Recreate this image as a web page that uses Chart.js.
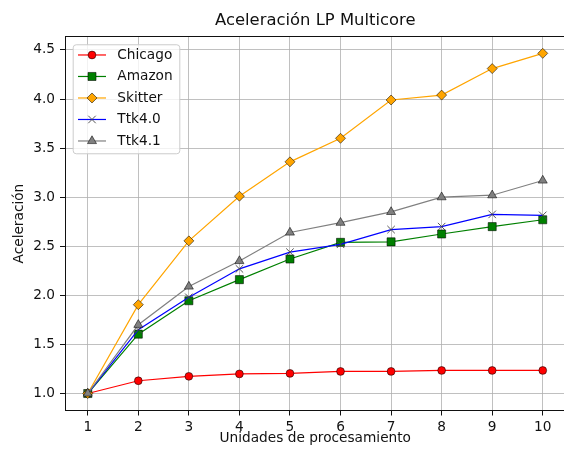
<!DOCTYPE html>
<html>
<head>
<meta charset="utf-8">
<script src="https://cdn.jsdelivr.net/npm/chart.js@4.4.0/dist/chart.umd.min.js"></script>
<style>
  html, body { margin: 0; padding: 0; background: #fff; overflow: hidden; }
  canvas { display: block; }
</style>
</head>
<body>
<canvas id="chart" width="600" height="453"></canvas>
<script>
// valores
const units = [1, 2, 3, 4, 5, 6, 7, 8, 9, 10];
const chicago = [1.0, 1.13, 1.175, 1.20, 1.205, 1.225, 1.225, 1.235, 1.235, 1.235];
const amazon = [1.0, 1.605, 1.945, 2.16, 2.37, 2.54, 2.545, 2.625, 2.70, 2.77];
const skitter = [1.0, 1.905, 2.555, 3.01, 3.36, 3.60, 3.99, 4.04, 4.31, 4.465];
const ttk40 = [1.0, 1.65, 1.98, 2.27, 2.44, 2.52, 2.67, 2.70, 2.825, 2.815];
const ttk41 = [1.0, 1.70, 2.09, 2.35, 2.64, 2.74, 2.85, 3.00, 3.02, 3.17];
const seriesNames = ["Chicago", "Amazon", "Skitter", "Ttk4.0", "Ttk4.1"];
const xTicks = [1, 2, 3, 4, 5, 6, 7, 8, 9, 10];
const yTicks = [1.0, 1.5, 2.0, 2.5, 3.0, 3.5, 4.0, 4.5];

// estilos tipo matplotlib
const styles = [
    { line: "#ff0000", fill: "#ff0000", edge: "rgba(0,0,0,0.6)", marker: "circle", r: 3.9 },
    { line: "#008000", fill: "#008000", edge: "rgba(0,0,0,0.6)", marker: "rect", r: 5.7 },
    { line: "#ffa500", fill: "#ffa500", edge: "rgba(0,0,0,0.6)", marker: "rectRot", r: 5 },
    { line: "#0000ff", fill: "#0000ff", edge: "#444", marker: "crossRot", r: 5.3 },
    { line: "#808080", fill: "#808080", edge: "rgba(0,0,0,0.6)", marker: "triangle", r: 5.2 }
]
const allSeries = [chicago, amazon, skitter, ttk40, ttk41];

const fontSize = 13.7;
Chart.defaults.font.family = "'DejaVu Sans', sans-serif";
Chart.defaults.font.size = fontSize;
Chart.defaults.color = "#111";

const datasets = allSeries.map((values, i) => ({
    label: seriesNames[i],
    data: units.map((x, j) => ({ x: x, y: values[j] })),
    borderColor: styles[i].line,
    borderWidth: 1.2,
    backgroundColor: styles[i].fill,
    pointStyle: styles[i].marker,
    pointRadius: styles[i].r,
    pointBackgroundColor: styles[i].fill,
    pointBorderColor: styles[i].edge,
    pointBorderWidth: 0.9,
    tension: 0,
    order: allSeries.length - i
}));

const framePlugin = {
    id: "frame",
    afterDatasetsDraw(chart) {
        const { ctx, chartArea } = chart;
        ctx.save();
        ctx.strokeStyle = "#111";
        ctx.lineWidth = 1;
        ctx.beginPath();
        const y = Math.floor(chartArea.top) + 0.5;
        ctx.moveTo(chartArea.left, y);
        ctx.lineTo(chartArea.right, y);
        ctx.lineTo(chartArea.right, chartArea.bottom);
        ctx.stroke();
        ctx.restore();
    }
};

const legendPlugin = {
    id: "mplLegend",
    afterDraw(chart) {
        const { ctx, chartArea } = chart;
        const bx = chartArea.left + 7.7, by = chartArea.top + 7.6, bw = 106.6, bh = 109;
        ctx.save();
        ctx.beginPath();
        ctx.roundRect(bx + 0.5, by + 0.5, bw, bh, 3);
        ctx.fillStyle = "rgba(255,255,255,0.8)";
        ctx.fill();
        ctx.strokeStyle = "#cccccc";
        ctx.lineWidth = 1;
        ctx.stroke();

        seriesNames.forEach((name, i) => {
            const y = by + 10.7 + i * 21.5;
            ctx.beginPath();
            ctx.strokeStyle = styles[i].line;
            ctx.lineWidth = 1.2;
            ctx.moveTo(bx + 5.3, y);
            ctx.lineTo(bx + 33.3, y);
            ctx.stroke();

            ctx.fillStyle = styles[i].fill;
            ctx.strokeStyle = styles[i].edge;
            ctx.lineWidth = 0.9;
            Chart.helpers.drawPoint(ctx, {
                pointStyle: styles[i].marker,
                radius: styles[i].r,
                rotation: 0,
                borderWidth: 0.9
            }, bx + 19.3, y);

            ctx.fillStyle = "#111";
            ctx.font = fontSize + "px 'DejaVu Sans'";
            ctx.textAlign = "left";
            ctx.textBaseline = "middle";
            ctx.fillText(name, bx + 44.6, y);
        });
        ctx.restore();
    }
};

new Chart(document.getElementById("chart"), {
    type: "line",
    data: { datasets: datasets },
    options: {
        responsive: false,
        animation: false,
        layout: { padding: { left: 0, top: 0, right: 34.5, bottom: 0 } },
        plugins: {
            legend: { display: false },
            tooltip: { enabled: false },
            title: {
                display: true,
                fullSize: false,
                text: "Aceleración LP Multicore",
                color: "#111",
                font: { size: 16.4, weight: "normal" },
                padding: { top: 11.2, bottom: 5.8 }
            }
        },
        scales: {
            x: {
                type: "linear",
                min: 0.55,
                max: 10.45,
                afterBuildTicks: s => { s.ticks = xTicks.map(v => ({ value: v })); },
                afterFit: s => { s.height = 42.5; },
                grid: { color: "#b0b0b0", lineWidth: 0.8, tickColor: "#111", tickWidth: 1, tickLength: 5 },
                border: { color: "#111", width: 1 },
                ticks: { padding: 3.5, maxRotation: 0, autoSkip: false },
                title: {
                    display: true,
                    text: "Unidades de procesamiento",
                    padding: { top: 0, bottom: 6.3 }
                }
            },
            y: {
                min: 0.827,
                max: 4.635,
                afterBuildTicks: s => { s.ticks = yTicks.map(v => ({ value: v })); },
                afterFit: s => { s.width = 65; },
                grid: { color: "#b0b0b0", lineWidth: 0.8, tickColor: "#111", tickWidth: 1, tickLength: 5 },
                border: { color: "#111", width: 1 },
                ticks: { padding: 5, callback: v => v.toFixed(1) },
                title: {
                    display: true,
                    text: "Aceleración",
                    padding: { top: 11.3, bottom: 0 }
                }
            }
        }
    },
    plugins: [framePlugin, legendPlugin]
});
</script>
</body>
</html>
